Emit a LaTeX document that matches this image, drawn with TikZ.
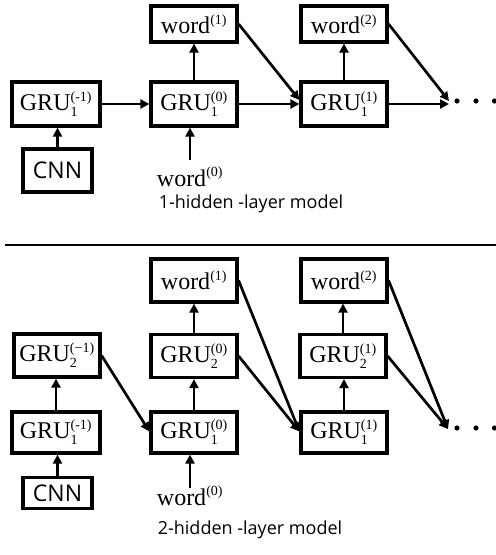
\documentclass[tikz,border=0pt]{standalone}
\usepackage{fontspec}
\setmainfont{Liberation Serif}
\newfontfamily\capfont{Open Sans}
\usetikzlibrary{arrows.meta}
\newcommand\gsupsub[2]{\ensuremath{^{\hbox{\fontsize{14}{14}\selectfont #2}}_{\hbox{\fontsize{14}{14}\selectfont #1}}}}
\newcommand\gsup[1]{\ensuremath{^{\hbox{\fontsize{14}{14}\selectfont #1}}}}
\begin{document}
\begin{tikzpicture}[x=1pt,y=-1pt,
  box/.style={draw,line width=3.2pt,minimum width=86pt,minimum height=43pt,inner sep=0pt,font=\fontsize{24}{24}\selectfont},
  cnnbox/.style={draw,line width=3.2pt,minimum width=69pt,inner sep=0pt,font=\capfont\fontsize{23}{23}\selectfont},
  plain/.style={inner sep=0pt,font=\fontsize{24}{24}\selectfont},
  caption/.style={inner sep=0pt,font=\capfont\fontsize{18}{18}\selectfont},
  arr/.style={line width=2.7pt,-{Triangle[length=9pt,width=9pt]}},
  dot/.style={fill=black,draw=none}]
\useasboundingbox (0,0) rectangle (496,555);
% ---------- top panel ----------
\node[box,minimum height=36pt] (w1t) at (194,24) {word\gsup{(1)}};
\node[box,minimum height=36pt] (w2t) at (344,24) {word\gsup{(2)}};
\node[box,minimum width=88pt,minimum height=44pt] (g1m1t) at (56,104) {GRU\gsupsub{1}{(-1)}};
\node[box,minimum height=44pt] (g10t) at (194,104) {GRU\gsupsub{1}{(0)}};
\node[box,minimum height=44pt] (g11t) at (344,104) {GRU\gsupsub{1}{(1)}};
\node[cnnbox,minimum height=43pt] (cnnt) at (57.5,170.5) {CNN};
\node[plain,anchor=base] (word0t) at (190,186) {word\gsup{(0)}};
\coordinate (w0ta) at (190,160);
\node[caption] (cap1) at (251,204) {1-hidden -layer model};
\coordinate (dT) at (449,104);
\fill[dot] (457,101) circle (2.6pt) (476,101) circle (2.6pt) (494.5,101) circle (2.6pt);
\draw[arr] (g1m1t.east) -- (g10t.west);
\draw[arr] (g10t.east) -- (g11t.west);
\draw[arr] (g11t.east) -- (dT);
\draw[arr] (w1t.east) -- ([yshift=4pt]g11t.west);
\draw[arr] (w2t.east) -- ([yshift=3pt]dT);
\draw[arr] (g10t.north) -- (w1t.south);
\draw[arr] (g11t.north) -- (w2t.south);
\draw[arr] (cnnt.north) -- (cnnt.north |- g1m1t.south);
\draw[arr] (w0ta) -- (w0ta |- g10t.south);
% separator
\coordinate (sepL) at (5,245);
\coordinate (sepR) at (496,245);
\draw[line width=2.7pt] (sepL) -- (sepR);
% ---------- bottom panel ----------
\node[box] (w1b) at (194,280.5) {word\gsup{(1)}};
\node[box] (w2b) at (344,280.5) {word\gsup{(2)}};
\node[box] (g2m1b) at (57,355.5) {GRU\gsupsub{2}{(−1)}};
\node[box] (g20b) at (194,356) {GRU\gsupsub{2}{(0)}};
\node[box] (g21b) at (343,356) {GRU\gsupsub{2}{(1)}};
\node[box,minimum width=88pt,minimum height=41pt] (g1m1b) at (56,432.5) {GRU\gsupsub{1}{(-1)}};
\node[box,minimum height=41pt] (g10b) at (194,432.5) {GRU\gsupsub{1}{(0)}};
\node[box,minimum height=41pt] (g11b) at (344,432.5) {GRU\gsupsub{1}{(1)}};
\node[cnnbox,minimum height=31pt] (cnnb) at (57.5,493) {CNN};
\node[plain,anchor=base] (word0b) at (190,505) {word\gsup{(0)}};
\coordinate (w0ba) at (190,488);
\node[caption] (cap2) at (250,530) {2-hidden -layer model};
\coordinate (dB) at (448,429);
\fill[dot] (457,428) circle (2.6pt) (476,428) circle (2.6pt) (494.5,428) circle (2.6pt);
\draw[arr] (g1m1b.north) -- (g1m1b.north |- g2m1b.south);
\draw[arr] (cnnb.north) -- (cnnb.north |- g1m1b.south);
\draw[arr] (g10b.north) -- (g20b.south);
\draw[arr] (g20b.north) -- (w1b.south);
\draw[arr] (g11b.north) -- (g11b.north |- g21b.south);
\draw[arr] (g21b.north) -- (g21b.north |- w2b.south);
\draw[arr] (w0ba) -- (w0ba |- g10b.south);
\draw[arr] (g2m1b.east) -- ([yshift=1pt]g10b.west);
\draw[arr] (g20b.east) -- ([yshift=1pt]g11b.west);
\draw[arr] (w1b.east) -- ([yshift=1pt]g11b.west);
\draw[arr] (g21b.east) -- (dB);
\draw[arr] (w2b.east) -- (dB);
\end{tikzpicture}
\end{document}
